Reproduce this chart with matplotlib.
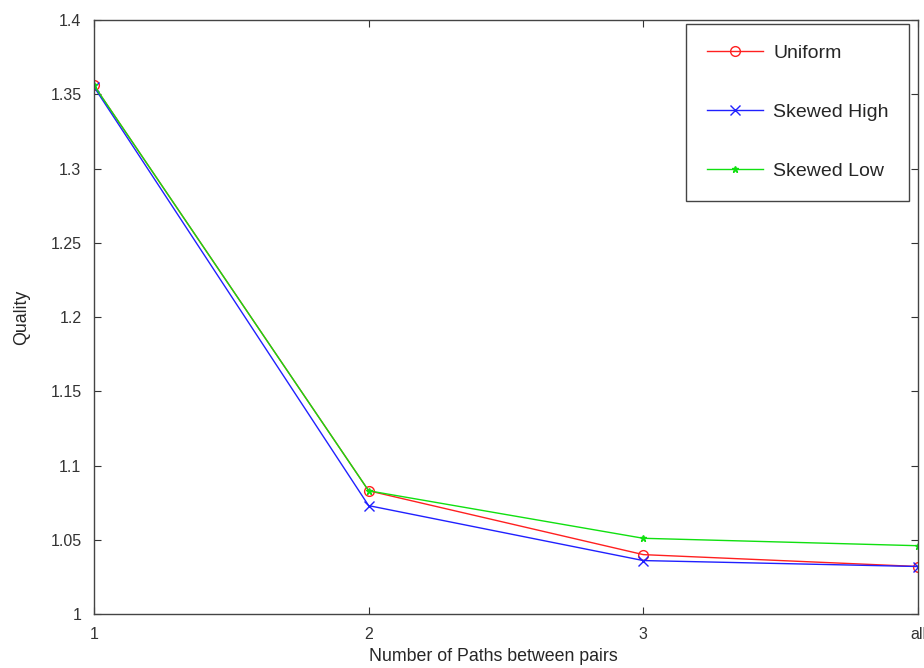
import matplotlib.pyplot as plt

plt.rcParams['font.family'] = ['Liberation Sans', 'DejaVu Sans']

# --- dados ---
caminhos = ['1', '2', '3', 'all']
uniform = [1.356, 1.083, 1.040, 1.032]
skewed_high = [1.355, 1.073, 1.036, 1.032]
skewed_low = [1.356, 1.083, 1.051, 1.046]

fig = plt.figure(figsize=(9.24, 6.68), dpi=100)
ax = fig.add_axes([0.1017, 0.0808, 0.8918, 0.8892])

x = range(len(caminhos))
ax.plot(x, uniform, color='#ff2020', lw=1, marker='o', mfc='none', ms=7, mew=1, label='Uniform')
ax.plot(x, skewed_high, color='#2020ff', lw=1, marker='x', ms=7, mew=1, label='Skewed High')
ax.plot(x, skewed_low, color='#10e010', lw=1, marker='*', ms=5, mew=1, label='Skewed Low')

ax.set_xlim(0, len(caminhos) - 1)
ax.set_ylim(1.0, 1.4)
ax.set_xticks(list(x))
ax.set_xticklabels(caminhos)
ax.set_yticks([1, 1.05, 1.1, 1.15, 1.2, 1.25, 1.3, 1.35, 1.4])
ax.set_yticklabels(['1', '1.05', '1.1', '1.15', '1.2', '1.25', '1.3', '1.35', '1.4'])
ax.tick_params(direction='in', length=5, width=0.8, colors='#333333', labelsize=11.5,
               top=True, right=True, pad=9)
for s in ax.spines.values():
    s.set_color('#444444')
    s.set_linewidth(1)

ax.set_xlabel('Number of Paths between pairs', fontsize=12.8, color='#262626')
ax.xaxis.set_label_coords(0.485, -0.058)
ax.set_ylabel('Quality', fontsize=12.8, color='#262626')
ax.yaxis.set_label_coords(-0.077, 0.5)

leg = ax.legend(loc='upper right', bbox_to_anchor=(0.989, 0.993), fontsize=14,
                labelspacing=2.13, handlelength=2.9, handletextpad=0.5, borderpad=1.05,
                fancybox=False, edgecolor='#444444', framealpha=1, borderaxespad=0)
leg.get_frame().set_linewidth(1)
for t in leg.get_texts():
    t.set_color('#262626')

fig.savefig('out.png', dpi=100)
